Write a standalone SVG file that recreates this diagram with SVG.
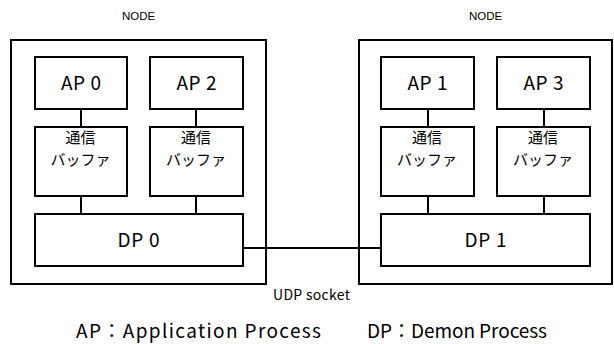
<svg xmlns="http://www.w3.org/2000/svg" width="614" height="344" viewBox="0 0 614 344">
<style>
.box{fill:#fff;stroke:#000;stroke-width:2}
.ln{stroke:#000;stroke-width:2;fill:none}
.t{font-family:"Noto Sans CJK JP","DejaVu Sans",sans-serif;fill:#000;text-anchor:middle}
.big{font-size:19px}
.jp{font-size:15px}
.sm{font-size:14px}
.node{font-family:"Liberation Sans",Arial,sans-serif;font-size:11.5px;fill:#000;text-anchor:middle}
</style>
<rect width="614" height="344" fill="#fff"/>
<g id="node-left">
<rect class="box" x="11" y="40" width="255" height="244"/>
<text class="node" x="138.5" y="20">NODE</text>
</g>
<g id="node-right">
<rect class="box" x="359" y="40" width="253" height="244"/>
<text class="node" x="485.5" y="20">NODE</text>
</g>
<g id="connectors">
<line class="ln" x1="81" y1="109" x2="81" y2="127"/>
<line class="ln" x1="81" y1="196" x2="81" y2="214"/>
<line class="ln" x1="196" y1="109" x2="196" y2="127"/>
<line class="ln" x1="196" y1="196" x2="196" y2="214"/>
<line class="ln" x1="428" y1="109" x2="428" y2="127"/>
<line class="ln" x1="428" y1="196" x2="428" y2="214"/>
<line class="ln" x1="544" y1="109" x2="544" y2="127"/>
<line class="ln" x1="544" y1="196" x2="544" y2="214"/>
<line class="ln" x1="243" y1="248" x2="381" y2="248"/>
</g>
<g id="ap0"><rect class="box" x="35" y="57" width="92" height="52"/><text class="t big" x="81" y="90" textLength="40" xml:space="preserve">AP 0</text></g>
<g id="ap2"><rect class="box" x="150" y="57" width="93" height="52"/><text class="t big" x="196.5" y="90" textLength="40" xml:space="preserve">AP 2</text></g>
<g id="ap1"><rect class="box" x="381" y="57" width="93" height="52"/><text class="t big" x="427.5" y="90" textLength="40" xml:space="preserve">AP 1</text></g>
<g id="ap3"><rect class="box" x="497" y="57" width="93" height="52"/><text class="t big" x="543.5" y="90" textLength="40" xml:space="preserve">AP 3</text></g>
<g id="buf0"><rect class="box" x="35" y="127" width="92" height="69"/><text class="t jp" x="80.5" y="143">通信</text><text class="t jp" x="80.5" y="165">バッファ</text></g>
<g id="buf2"><rect class="box" x="150" y="127" width="93" height="69"/><text class="t jp" x="196" y="143">通信</text><text class="t jp" x="196" y="165">バッファ</text></g>
<g id="buf1"><rect class="box" x="381" y="127" width="93" height="69"/><text class="t jp" x="427" y="143">通信</text><text class="t jp" x="427" y="165">バッファ</text></g>
<g id="buf3"><rect class="box" x="497" y="127" width="93" height="69"/><text class="t jp" x="543" y="143">通信</text><text class="t jp" x="543" y="165">バッファ</text></g>
<g id="dp0"><rect class="box" x="35" y="214" width="208" height="52"/><text class="t big" x="138.5" y="247" textLength="42" xml:space="preserve">DP 0</text></g>
<g id="dp1"><rect class="box" x="381" y="214" width="209" height="52"/><text class="t big" x="485.5" y="247" textLength="42" xml:space="preserve">DP 1</text></g>
<text class="t sm" x="311.5" y="300" textLength="77">UDP socket</text>
<text class="t big" x="198.5" y="338" textLength="245">AP：Application Process</text>
<text class="t big" x="457" y="338" textLength="180">DP：Demon Process</text>
</svg>
